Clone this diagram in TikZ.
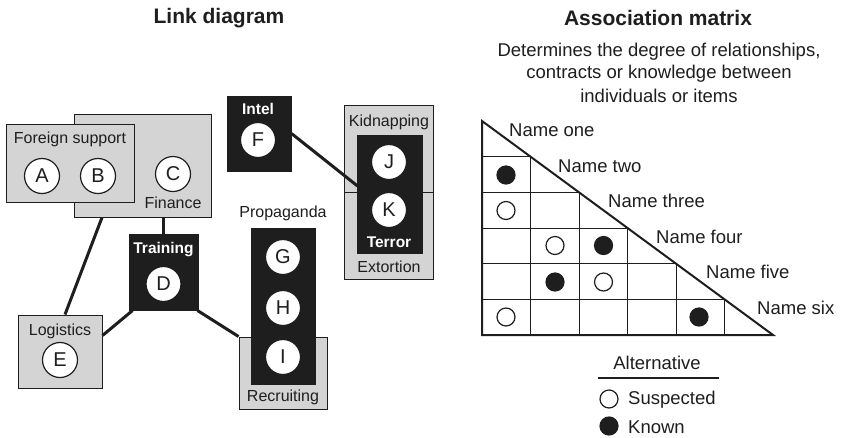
\documentclass[tikz,border=0pt]{standalone}
\usepackage{fontspec}
\setmainfont{Liberation Sans}
\usetikzlibrary{calc}
\definecolor{boxgray}{HTML}{D4D4D4}
\definecolor{ink}{HTML}{1E1E1E}
\begin{document}
\begin{tikzpicture}[x=1pt,y=-1pt,
  graybox/.style={draw=ink, line width=1pt, fill=boxgray, inner sep=0pt},
  blackbox/.style={draw=ink, line width=1pt, fill=ink, inner sep=0pt},
  ent/.style={circle, draw=ink, line width=1.2pt, fill=white, minimum size=35pt, inner sep=0pt, font=\fontsize{20}{24}\selectfont, text=ink},
  lbl/.style={font=\fontsize{16}{19}\selectfont, text=ink, inner sep=0pt},
  wlbl/.style={font=\fontsize{15.5}{18}\selectfont\bfseries, text=white, inner sep=0pt},
  ttl/.style={font=\fontsize{21}{25}\selectfont\bfseries, text=ink, inner sep=0pt},
  mtxt/.style={font=\fontsize{18.5}{22}\selectfont, text=ink, inner sep=0pt},
  link/.style={draw=ink, line width=3pt},
  grid/.style={draw=ink, line width=1pt},
  dotopen/.style={circle, draw=ink, line width=1.2pt, fill=white, minimum size=18pt, inner sep=0pt},
  dotfull/.style={circle, draw=ink, line width=1.2pt, fill=ink, minimum size=18pt, inner sep=0pt}
]
\useasboundingbox[fill=white] (0,0) rectangle (842,437);

% titles
\node[ttl] (t1) at (219,18) {Link diagram};
\node[ttl] (t2) at (658,18) {Association matrix};

% ---------- link diagram ----------
\node[graybox, minimum width=137pt, minimum height=103pt] (finance) at (142.5,165.5) {};
\node[graybox, minimum width=128pt, minimum height=78pt] (foreign) at (70,163) {};
\node[lbl] (foreignlbl) at (70,139) {Foreign support};
\node[ent] (A) at (42,176) {A};
\node[ent] (B) at (98,176) {B};
\node[ent] (C) at (173,174) {C};
\node[lbl] (financelbl) at (173,203) {Finance};

\node[blackbox, minimum width=69pt, minimum height=76pt] (training) at (163.5,272) {};
\node[wlbl] (traininglbl) at (163.5,250) {Training};
\node[ent] (D) at (163.5,284) {D};

\node[graybox, minimum width=84pt, minimum height=73pt] (logistics) at (60,351.5) {};
\node[lbl] (logisticslbl) at (60,331) {Logistics};
\node[ent] (E) at (60,360) {E};

\node[graybox, minimum width=88pt, minimum height=72pt] (recruiting) at (283,373) {};
\node[lbl] (recruitinglbl) at (283,397) {Recruiting};
\node[blackbox, minimum width=64pt, minimum height=156pt] (propaganda) at (283,306) {};
\node[lbl] (propagandalbl) at (283,213) {Propaganda};
\node[ent] (G) at (283,257) {G};
\node[ent] (H) at (283,308) {H};
\node[ent] (I) at (283,357) {I};

\node[blackbox, minimum width=64pt, minimum height=75pt] (intel) at (259,133.5) {};
\node[wlbl] (intellbl) at (258,109) {Intel};
\node[ent] (F) at (258,140) {F};

\node[graybox, minimum width=89pt, minimum height=174pt] (kidnap) at (388.5,192) {};
\draw[grid] (kidnap.west) -- (kidnap.east);
\node[lbl] (kidnaplbl) at (389,122) {Kidnapping};
\node[lbl] (extortionlbl) at (389,267) {Extortion};

% connectors
\draw[link] ([xshift=-40.5pt]finance.south) -- ([xshift=5pt]logistics.north);
\draw[link] (training.north |- finance.south) -- (training.north);
\draw[link] ([xshift=4pt]training.south west) -- ([yshift=16pt]logistics.east);
\draw[link] ([xshift=-1pt]training.south east) -- (recruiting.north west);
\draw[link] (intel.east) -- ([yshift=6pt,xshift=0.5pt]kidnap.west -| 357,0);

\node[blackbox, minimum width=65pt, minimum height=118pt] (terror) at (389.5,194) {};
\node[ent] (J) at (389,162) {J};
\node[ent] (K) at (389,210) {K};
\node[wlbl] (terrorlbl) at (389,242) {Terror};

% ---------- association matrix ----------
\node[mtxt] (sub1) at (659,52) {Determines the degree of relationships,};
\node[mtxt] (sub2) at (659,74) {contracts or knowledge between};
\node[mtxt] (sub3) at (659,95.5) {individuals or items};

\foreach \k in {1,...,5} {
  \draw[grid] (482,{121+35.667*\k}) -- ({482+48.5*\k},{121+35.667*\k});
  \draw[grid] ({482+48.5*\k},{121+35.667*\k}) -- ({482+48.5*\k},335);
}
\draw[draw=ink, line width=2pt, line join=miter] (482,121) -- (482,335) -- (773,335) -- cycle;

\node[dotfull] (d1) at (506,175) {};
\node[dotopen] (d2) at (506,210.5) {};
\node[dotopen] (d3) at (555,245.5) {};
\node[dotfull] (d4) at (603.5,245.5) {};
\node[dotfull] (d5) at (555,282) {};
\node[dotopen] (d6) at (603.5,282) {};
\node[dotopen] (d7) at (506,317) {};
\node[dotfull] (d8) at (699,317) {};

\node[mtxt, anchor=west] (n1) at (509,130) {Name one};
\node[mtxt, anchor=west] (n2) at (558,166) {Name two};
\node[mtxt, anchor=west] (n3) at (608,201) {Name three};
\node[mtxt, anchor=west] (n4) at (656,237) {Name four};
\node[mtxt, anchor=west] (n5) at (706,272) {Name five};
\node[mtxt, anchor=west] (n6) at (757,308) {Name six};

% legend
\node[mtxt] (alt) at (657,363) {Alternative};
\draw[draw=ink, line width=1.3pt] (598,378) -- (719,378);
\node[dotopen] (lgo) at (609,399) {};
\node[mtxt, anchor=west] (lgotxt) at (628,400) {Suspected};
\node[dotfull] (lgf) at (609,426) {};
\node[mtxt, anchor=west] (lgftxt) at (628,427) {Known};
\end{tikzpicture}
\end{document}
